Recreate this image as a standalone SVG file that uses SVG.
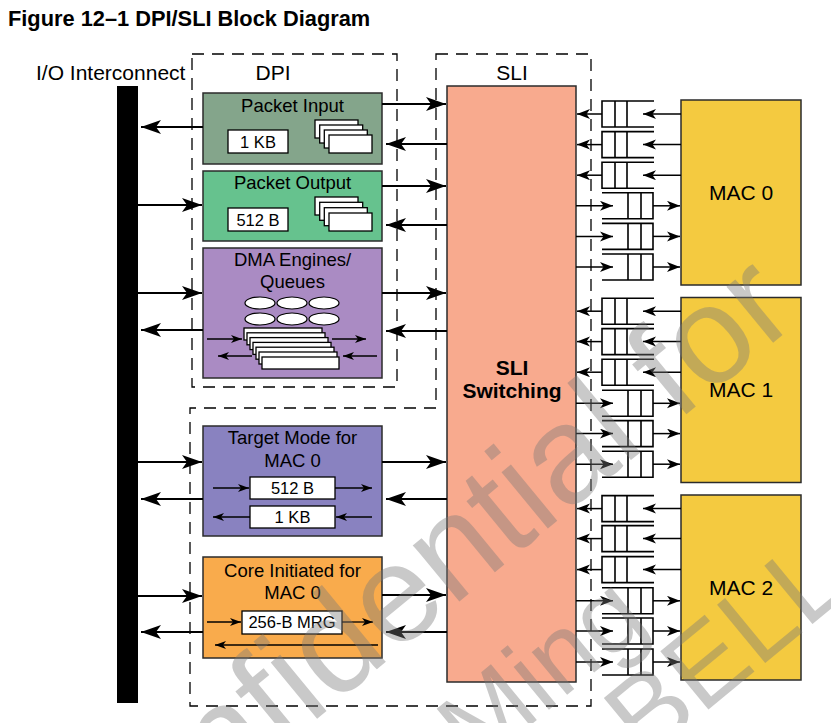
<svg xmlns="http://www.w3.org/2000/svg" width="831" height="723" viewBox="0 0 831 723">
<style>
text{font-family:"Liberation Sans",Arial,sans-serif;fill:#000}
.t{font-size:18.5px;text-anchor:middle}
.s{font-size:16.5px;text-anchor:middle}
.big{font-size:21px}
.box{stroke:#2b2b2b;stroke-width:1.5}
.wb{fill:#fff;stroke:#000;stroke-width:1.3}
.dash{fill:none;stroke:#000;stroke-width:1.3;stroke-dasharray:12 8}
.c{stroke:#000;stroke-width:2;fill:none;marker-end:url(#ah)}
.i{stroke:#000;stroke-width:1.3;fill:none;marker-end:url(#as)}
.q{stroke:#000;stroke-width:1.6;fill:none}
.qa{stroke:#000;stroke-width:1.5;fill:none;marker-end:url(#aq)}
.wm{fill:#7a7a7a}
</style>
<defs>
<marker id="ah" markerUnits="userSpaceOnUse" markerWidth="20" markerHeight="16" refX="20" refY="8" orient="auto"><path d="M0,1 L20,8 L0,15 L5,8 Z" fill="#000"/></marker>
<marker id="as" markerUnits="userSpaceOnUse" markerWidth="12" markerHeight="10" refX="11" refY="4.5" orient="auto"><path d="M0,0.5 L11,4.5 L0,8.5 L3,4.5 Z" fill="#000"/></marker>
<marker id="aq" markerUnits="userSpaceOnUse" markerWidth="14" markerHeight="11" refX="13" refY="5" orient="auto"><path d="M0,0 L13,5 L0,10 L3.5,5 Z" fill="#000"/></marker>
<g id="qin">
<path class="q" d="M654,-13 H602 V13 H654 M615,-13 V13 M627,-13 V13"/>
<line class="qa" x1="681" y1="0" x2="643" y2="0"/>
<line class="qa" x1="602" y1="0" x2="577" y2="0"/>
</g>
<g id="qout">
<path class="q" d="M602,-13 H653 V13 H602 M628,-13 V13 M641,-13 V13"/>
<line class="qa" x1="576" y1="0" x2="613" y2="0"/>
<line class="qa" x1="653" y1="0" x2="680" y2="0"/>
</g>
</defs>
<rect width="831" height="723" fill="#fff"/>
<text x="8" y="26" style="font-size:21.8px;font-weight:bold">Figure 12–1  DPI/SLI Block Diagram</text>
<text x="36" y="80" class="big">I/O Interconnect</text>

<g id="dpi-region">
<rect class="dash" x="192" y="54" width="205" height="333"/>
<text x="273" y="80" class="big" text-anchor="middle">DPI</text>
</g>
<g id="sli-region">
<path class="dash" d="M436,54 H591 V706 H190 V408 H436 Z"/>
<text x="512" y="80" class="big" text-anchor="middle">SLI</text>
</g>

<g id="io-interconnect"><rect x="117" y="86" width="21" height="617" fill="#000"/></g>

<g id="packet-input">
<rect class="box" x="203" y="93" width="179" height="71" fill="#84a58b"/>
<text x="292.5" y="112" class="t">Packet Input</text>
<rect class="wb" x="228" y="130" width="60" height="23"/>
<text x="258" y="148" class="s">1 KB</text>
<rect class="wb" x="315" y="120" width="43" height="18"/>
<rect class="wb" x="319.7" y="125" width="43" height="18"/>
<rect class="wb" x="324.3" y="130" width="43" height="18"/>
<rect class="wb" x="329" y="135" width="43" height="18"/>
</g>

<g id="packet-output">
<rect class="box" x="203" y="171" width="179" height="70" fill="#66c28e"/>
<text x="292.5" y="189" class="t">Packet Output</text>
<rect class="wb" x="228" y="208" width="60" height="23"/>
<text x="258" y="226" class="s">512 B</text>
<rect class="wb" x="315" y="197" width="43" height="18"/>
<rect class="wb" x="319.7" y="202.3" width="43" height="18"/>
<rect class="wb" x="324.3" y="207.7" width="43" height="18"/>
<rect class="wb" x="329" y="213" width="43" height="18"/>
</g>

<g id="dma-engines">
<rect class="box" x="203" y="248" width="179" height="130" fill="#aa8bc3"/>
<text x="292.5" y="266" class="t">DMA Engines/</text>
<text x="292.5" y="288" class="t">Queues</text>
<g fill="#fff" stroke="#000" stroke-width="1.2">
<ellipse cx="260" cy="303" rx="15" ry="6"/><ellipse cx="292" cy="303" rx="15" ry="6"/><ellipse cx="324" cy="303" rx="15" ry="6"/>
<ellipse cx="260" cy="319" rx="15" ry="6"/><ellipse cx="292" cy="319" rx="15" ry="6"/><ellipse cx="324" cy="319" rx="15" ry="6"/>
</g>
<rect class="wb" x="244" y="328" width="78" height="12"/>
<rect class="wb" x="247" y="332.8" width="78" height="12"/>
<rect class="wb" x="250" y="337.6" width="78" height="12"/>
<rect class="wb" x="253" y="342.4" width="78" height="12"/>
<rect class="wb" x="256" y="347.2" width="78" height="12"/>
<rect class="wb" x="259" y="352" width="78" height="12"/>
<rect class="wb" x="262" y="357" width="77" height="12"/>
<line class="i" x1="207" y1="339" x2="242" y2="339"/>
<line class="i" x1="332" y1="339" x2="366" y2="339"/>
<line class="i" x1="252" y1="356" x2="218" y2="356"/>
<line class="i" x1="377" y1="356" x2="343" y2="356"/>
</g>

<g id="target-mode">
<rect class="box" x="203" y="426" width="179" height="110" fill="#8982c0"/>
<text x="292.5" y="444" class="t">Target Mode for</text>
<text x="292.5" y="467" class="t">MAC 0</text>
<rect class="wb" x="250" y="477" width="85" height="22"/>
<text x="292.5" y="494" class="s">512 B</text>
<rect class="wb" x="250" y="506" width="85" height="22"/>
<text x="292.5" y="523" class="s">1 KB</text>
<line class="i" x1="213" y1="488" x2="249" y2="488"/>
<line class="i" x1="335" y1="488" x2="372" y2="488"/>
<line class="i" x1="250" y1="517" x2="213" y2="517"/>
<line class="i" x1="372" y1="517" x2="336" y2="517"/>
</g>

<g id="core-initiated">
<rect class="box" x="203" y="557" width="179" height="101" fill="#f9ab4c"/>
<text x="292.5" y="577" class="t">Core Initiated for</text>
<text x="292.5" y="599" class="t">MAC 0</text>
<rect class="wb" x="242" y="611" width="100" height="23"/>
<text x="292" y="628" class="s">256-B MRG</text>
<line class="i" x1="207" y1="622" x2="241" y2="622"/>
<line class="i" x1="342" y1="622" x2="373" y2="622"/>
<line class="i" x1="378" y1="645" x2="215" y2="645"/>
</g>

<g id="sli-switching">
<rect class="box" x="447" y="86" width="129" height="596" fill="#f8aa8e"/>
<text x="512" y="375" style="font-size:21px;font-weight:bold" text-anchor="middle">SLI</text>
<text x="512" y="398" style="font-size:21px;font-weight:bold" text-anchor="middle">Switching</text>
</g>

<g id="mac0">
<rect class="box" x="681" y="100" width="120" height="185" fill="#f4ca40"/>
<text x="741" y="199.5" class="big" text-anchor="middle">MAC 0</text>
</g>
<g id="mac1">
<rect class="box" x="681" y="297.5" width="120" height="185" fill="#f4ca40"/>
<text x="741" y="397" class="big" text-anchor="middle">MAC 1</text>
</g>
<g id="mac2">
<rect class="box" x="681" y="495" width="120" height="185" fill="#f4ca40"/>
<text x="741" y="594.5" class="big" text-anchor="middle">MAC 2</text>
</g>

<g id="connectors">
<line class="c" x1="203" y1="127" x2="141" y2="127"/>
<line class="c" x1="138" y1="205" x2="202" y2="205"/>
<line class="c" x1="138" y1="293" x2="202" y2="293"/>
<line class="c" x1="203" y1="330" x2="141" y2="330"/>
<line class="c" x1="138" y1="462" x2="202" y2="462"/>
<line class="c" x1="203" y1="499" x2="141" y2="499"/>
<line class="c" x1="138" y1="596" x2="202" y2="596"/>
<line class="c" x1="203" y1="632" x2="141" y2="632"/>

<line class="c" x1="382" y1="104" x2="446" y2="104"/>
<line class="c" x1="447" y1="144" x2="386" y2="144"/>
<line class="c" x1="382" y1="186" x2="446" y2="186"/>
<line class="c" x1="447" y1="225" x2="386" y2="225"/>
<line class="c" x1="382" y1="293" x2="446" y2="293"/>
<line class="c" x1="447" y1="331" x2="386" y2="331"/>
<line class="c" x1="382" y1="462" x2="446" y2="462"/>
<line class="c" x1="447" y1="499" x2="386" y2="499"/>
<line class="c" x1="382" y1="595" x2="446" y2="595"/>
<line class="c" x1="447" y1="632" x2="386" y2="632"/>

<use href="#qin" y="114"/><use href="#qin" y="144.6"/><use href="#qin" y="175.2"/>
<use href="#qout" y="205.8"/><use href="#qout" y="236.4"/><use href="#qout" y="267"/>
<use href="#qin" y="311.2"/><use href="#qin" y="341.6"/><use href="#qin" y="372.2"/>
<use href="#qout" y="403.3"/><use href="#qout" y="433.6"/><use href="#qout" y="464.2"/>
<use href="#qin" y="508.6"/><use href="#qin" y="538.6"/><use href="#qin" y="569.6"/>
<use href="#qout" y="600.8"/><use href="#qout" y="631"/><use href="#qout" y="662"/>
</g>

<g id="watermark" opacity="0.4">
<text class="wm" transform="translate(85,910) rotate(-39.5)" style="font-size:138px">Confidential for</text>
<text class="wm" transform="translate(476,770) rotate(-39.5)" style="font-size:105px">Ming</text>
<text class="wm" transform="translate(645,762) rotate(-39.5)" style="font-size:110px">BELL</text>
</g>
</svg>
